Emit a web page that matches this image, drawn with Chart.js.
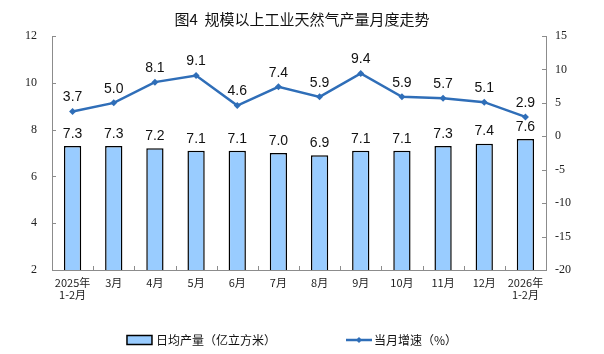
<!DOCTYPE html>
<html>
<head>
<meta charset="utf-8">
<script src="https://cdn.jsdelivr.net/npm/chart.js@4.4.1/dist/chart.umd.min.js"></script>
<style>
  html, body { margin: 0; padding: 0; background: #fff; }
  #wrap { width: 604px; height: 354px; }
</style>
</head>
<body>
<div id="wrap"><canvas id="chart"></canvas></div>
<script>
// data
const months = [['2025年', '1-2月'], '3月', '4月', '5月', '6月', '7月', '8月', '9月', '10月', '11月', '12月', ['2026年', '1-2月']];
const dailyOutput = [7.3, 7.3, 7.2, 7.1, 7.1, 7.0, 6.9, 7.1, 7.1, 7.3, 7.4, 7.6];
const monthGrowth = [3.7, 5.0, 8.1, 9.1, 4.6, 7.4, 5.9, 9.4, 5.9, 5.7, 5.1, 2.9];
const leftAxis = { min: 2, max: 12, step: 2 };
const rightAxis = { min: -20, max: 15, step: 5 };

const barColor = '#99CCFF';
const lineColor = '#2F6EB8';
const axisColor = '#8c8c8c';
const serif = "'Liberation Serif', 'Noto Sans CJK SC', serif";
const cjk = "'Noto Sans CJK SC', sans-serif";

// numbers above bars and points
const valueLabels = {
  id: 'valueLabels',
  afterDatasetsDraw(chart) {
    const ctx = chart.ctx;
    ctx.save();
    ctx.font = "14px 'Liberation Sans', Arial, sans-serif";
    ctx.fillStyle = '#111';
    ctx.textAlign = 'center';
    ctx.textBaseline = 'bottom';
    chart.data.datasets.forEach((ds, i) => {
      const meta = chart.getDatasetMeta(i);
      meta.data.forEach((el, j) => {
        const gap = ds.type === 'line' ? 7 : 5;
        ctx.fillText(ds.data[j].toFixed(1), el.x, el.y - gap);
      });
    });
    ctx.restore();
  }
};

// small tick marks pointing into the plot area
const innerTicks = {
  id: 'innerTicks',
  afterDraw(chart) {
    const ctx = chart.ctx;
    const area = chart.chartArea;
    const xs = chart.scales.x;
    ctx.save();
    ctx.strokeStyle = axisColor;
    ctx.lineWidth = 1;
    chart.scales.y.ticks.forEach(t => {
      const py = Math.round(chart.scales.y.getPixelForValue(t.value)) + 0.5;
      ctx.beginPath();
      ctx.moveTo(area.left, py);
      ctx.lineTo(area.left + 4, py);
      ctx.stroke();
    });
    chart.scales.y1.ticks.forEach(t => {
      const py = Math.round(chart.scales.y1.getPixelForValue(t.value)) + 0.5;
      ctx.beginPath();
      ctx.moveTo(area.right, py);
      ctx.lineTo(area.right - 4, py);
      ctx.stroke();
    });
    const step = xs.width / months.length;
    for (let i = 1; i < months.length; i++) {
      const px = Math.round(xs.left + step * i) + 0.5;
      ctx.beginPath();
      ctx.moveTo(px, area.bottom);
      ctx.lineTo(px, area.bottom - 4);
      ctx.stroke();
    }
    ctx.restore();
  }
};

// legend drawn by hand so the gap between the two items matches
const bottomLegend = {
  id: 'bottomLegend',
  afterDraw(chart) {
    const ctx = chart.ctx;
    const y = chart.height - 14;
    const labels = chart.data.datasets.map(d => d.label);
    ctx.save();
    ctx.font = '12px ' + cjk;
    ctx.textBaseline = 'middle';
    ctx.fillStyle = '#111';
    const w0 = ctx.measureText(labels[0]).width;
    const w1 = ctx.measureText(labels[1]).width;
    const gap = 70;
    const total = 25 + 4 + w0 + gap + 26 + 2 + w1;
    let x = chart.width / 2 - 10 - total / 2;
    // bar swatch
    ctx.fillStyle = barColor;
    ctx.fillRect(x, y - 4.5, 25, 9);
    ctx.strokeStyle = '#000';
    ctx.lineWidth = 1.5;
    ctx.strokeRect(x, y - 4.5, 25, 9);
    x += 29;
    ctx.fillStyle = '#111';
    ctx.fillText(labels[0], x, y);
    x += w0 + gap;
    // line swatch with diamond
    ctx.strokeStyle = lineColor;
    ctx.lineWidth = 2.5;
    ctx.beginPath();
    ctx.moveTo(x, y);
    ctx.lineTo(x + 26, y);
    ctx.stroke();
    ctx.fillStyle = lineColor;
    ctx.beginPath();
    ctx.moveTo(x + 13, y - 3);
    ctx.lineTo(x + 16, y);
    ctx.lineTo(x + 13, y + 3);
    ctx.lineTo(x + 10, y);
    ctx.closePath();
    ctx.fill();
    x += 28;
    ctx.fillStyle = '#111';
    ctx.fillText(labels[1], x, y);
    ctx.restore();
  }
};

new Chart(document.getElementById('chart'), {
  data: {
    labels: months,
    datasets: [
      {
        type: 'bar',
        label: '日均产量（亿立方米）',
        data: dailyOutput,
        yAxisID: 'y',
        backgroundColor: barColor,
        borderColor: '#000',
        borderWidth: 1.5,
        barPercentage: 0.42,
        categoryPercentage: 1,
        order: 2
      },
      {
        type: 'line',
        label: '当月增速（%）',
        data: monthGrowth,
        yAxisID: 'y1',
        borderColor: lineColor,
        backgroundColor: lineColor,
        borderWidth: 2.5,
        pointStyle: 'rectRot',
        pointRadius: 3.5,
        pointBorderWidth: 0,
        tension: 0,
        order: 1
      }
    ]
  },
  options: {
    responsive: true,
    maintainAspectRatio: false,
    animation: false,
    layout: { padding: 0 },
    plugins: {
      legend: { display: false },
      tooltip: { enabled: false },
      title: {
        display: true,
        text: '图4  规模以上工业天然气产量月度走势',
        color: '#111',
        font: { family: cjk, size: 15, weight: 'normal' },
        padding: { top: 10, bottom: 8 }
      }
    },
    scales: {
      x: {
        grid: { display: false, drawTicks: false },
        border: { color: axisColor },
        ticks: { color: '#222', font: { family: cjk, size: 11, lineHeight: 1.15 }, padding: 6, maxRotation: 0, autoSkip: false },
        afterFit: s => { s.height = 84; }
      },
      y: {
        position: 'left',
        min: leftAxis.min,
        max: leftAxis.max,
        grid: { display: false, drawTicks: false },
        border: { display: true, color: axisColor },
        ticks: { stepSize: leftAxis.step, color: '#222', font: { family: serif, size: 12 }, padding: 15 },
        afterFit: s => { s.width = 52; }
      },
      y1: {
        position: 'right',
        min: rightAxis.min,
        max: rightAxis.max,
        grid: { display: false, drawTicks: false },
        border: { display: true, color: axisColor },
        ticks: { stepSize: rightAxis.step, color: '#222', font: { family: serif, size: 12 }, padding: 9 },
        afterFit: s => { s.width = 58; }
      }
    }
  },
  plugins: [valueLabels, innerTicks, bottomLegend]
});
</script>
</body>
</html>
